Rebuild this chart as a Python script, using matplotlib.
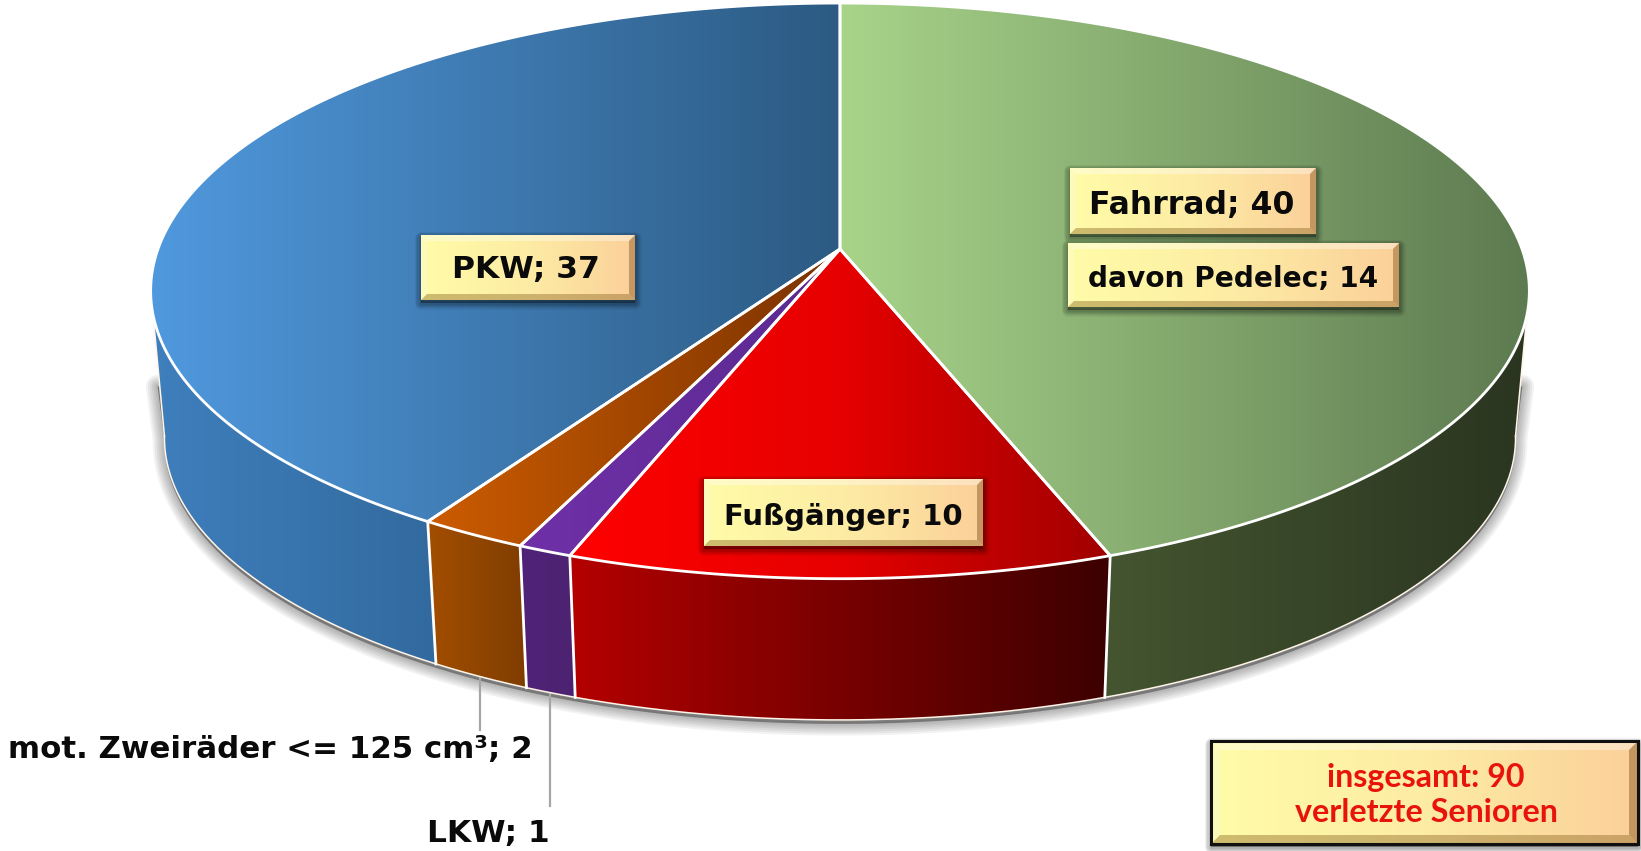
import numpy as np
import matplotlib
matplotlib.use('Agg')
import matplotlib.pyplot as plt
from matplotlib.colors import LinearSegmentedColormap
from matplotlib.patches import Polygon, Rectangle

names = ['Fahrrad', 'Fußgänger', 'LKW', 'mot. Zweiräder <= 125 cm³', 'PKW']
values = [40, 10, 1, 2, 37]
total_label = ['insgesamt: 90', 'verletzte Senioren']
sub_label = 'davon Pedelec; 14'

top_cols = [['#a8d48a', '#5d7a50'], ['#ff0000', '#e60000', '#a00000'], ['#7030a8', '#5a2a90'],
            ['#cc5c00', '#7a3200'], ['#5099de', '#2c5a82']]
wall_cols = [['#445530', '#2a3520'], ['#b40000', '#3c0000'], ['#50237a', '#4c2270'],
             ['#a34e00', '#7f3d00'], ['#3f7fbd', '#326a9e']]

W, H = 1641, 851
CX, CY = 840.0, 249.0
PERSP = 0.1455
RX = 682.0
RY = 245.5
LOWER = 0.98
VP_Y = 7640.0
# rulings on the silhouette, left and right
WALL_FROM, WALL_TO = 98.0, 262.0


def top_xy(ang):
    # angle in degrees, clockwise from 12 o'clock
    a = np.radians(ang)
    u, v = np.sin(a), np.cos(a)
    d = 1 + PERSP * v
    return CX + RX * u / d, (CY - RY * v) / d


def low_xy(ang):
    x, y = top_xy(ang)
    return CX + LOWER * (x - CX), VP_Y + LOWER * (y - VP_Y)


fig = plt.figure(figsize=(W / 100, H / 100), dpi=100)
ax = fig.add_axes([0, 0, 1, 1])
ax.set_xlim(0, W)
ax.set_ylim(H, 0)
ax.axis('off')


def grad_fill(xy, cols, z, bounds=None):
    xy = np.asarray(xy)
    poly = Polygon(xy, closed=True, fc='none', ec='none', zorder=z)
    ax.add_patch(poly)
    if bounds is None:
        x0, x1 = xy[:, 0].min(), xy[:, 0].max()
    else:
        x0, x1 = bounds
    y0, y1 = xy[:, 1].min(), xy[:, 1].max()
    cmap = LinearSegmentedColormap.from_list('g', cols)
    im = ax.imshow(np.linspace(0, 1, 256)[None, :], cmap=cmap, extent=[x0, x1, y1, y0],
                   aspect='auto', zorder=z, interpolation='bilinear')
    im.set_clip_path(poly)


def soft_shadow(xy, z, n=7, step=2.4, alpha=0.05, dy=3, color='black'):
    xy = np.asarray(xy) + [0, dy]
    for i in range(n, 0, -1):
        ax.add_patch(Polygon(xy, closed=True, fc='none', ec=color, lw=i * step, alpha=alpha,
                             joinstyle='round', zorder=z))
    ax.add_patch(Polygon(xy, closed=True, fc=color, ec='none', alpha=0.35, zorder=z))


def bevel_box(x0, y0, x1, y1, b=6, border=None, z=10):
    rect = [(x0, y0), (x1, y0), (x1, y1), (x0, y1)]
    soft_shadow(rect, z, n=5, step=1.8, alpha=0.07, dy=3)
    grad_fill(rect, ['#fffca8', '#fdeca4', '#fbd09a'], z + 1)
    faces = [([(x0, y0), (x1, y0), (x1 - b, y0 + b), (x0 + b, y0 + b)], '#ffffff', 0.36),
             ([(x0, y0), (x0 + b, y0 + b), (x0 + b, y1 - b), (x0, y1)], '#ffffff', 0.22),
             ([(x1, y0), (x1, y1), (x1 - b, y1 - b), (x1 - b, y0 + b)], '#7a4a10', 0.42),
             ([(x0, y1), (x1, y1), (x1 - b, y1 - b), (x0 + b, y1 - b)], '#8a6420', 0.42)]
    for f, c, a in faces:
        ax.add_patch(Polygon(f, closed=True, fc=c, ec='none', alpha=a, zorder=z + 2))
    if border:
        ax.add_patch(Rectangle((x0, y0), x1 - x0, y1 - y0, fc='none', ec=border, lw=2.2, zorder=z + 3))


# slice angles from the values
edges = np.cumsum([0] + values) * 360.0 / sum(values)

# shadow under the body, it starts halfway down the side walls
full = np.linspace(WALL_FROM, WALL_TO, 300)
lx, ly = low_xy(full)
rx, ry = top_xy(full)
soft_shadow(np.column_stack([np.r_[(rx[0] + lx[0]) / 2, lx, (rx[-1] + lx[-1]) / 2],
                             np.r_[(ry[0] + ly[0]) / 2 + 20, ly, (ry[-1] + ly[-1]) / 2 + 20]]),
            1, n=6, step=2.8, alpha=0.05, dy=4)

# side walls
for i in range(len(values)):
    a0, a1 = edges[i], edges[i + 1]
    a0v, a1v = max(a0, WALL_FROM), min(a1, WALL_TO)
    ang = np.linspace(a0v, a1v, 160)
    tx, ty = top_xy(ang)
    bx, by = low_xy(ang)
    wall = np.column_stack([np.r_[tx, bx[::-1]], np.r_[ty, by[::-1]]])
    grad_fill(wall, wall_cols[i], 3)
    ax.plot(bx, by, color='#fff4e8', lw=1.1, zorder=4)
    # white separators on the wall
    if WALL_FROM < a0 < WALL_TO:
        ax.plot(*zip(top_xy(a0), low_xy(a0)), color='white', lw=2, zorder=4)
for a in (WALL_FROM, WALL_TO):
    ax.plot(*zip(top_xy(a), low_xy(a)), color='#fff4e8', lw=1.1, zorder=4)

# top faces
for i in range(len(values)):
    a0, a1 = edges[i], edges[i + 1]
    ang = np.linspace(a0, a1, 240)
    tx, ty = top_xy(ang)
    face = np.column_stack([np.r_[CX, tx], np.r_[CY, ty]])
    grad_fill(face, top_cols[i], 5)
    ax.add_patch(Polygon(face, closed=True, fc='none', ec='white', lw=2, joinstyle='round', zorder=6))

# leader lines of the two small slices
ax.plot([480, 480], [675, 730], color='#a6a6a6', lw=1.6, zorder=2)
ax.plot([550, 550], [692, 806], color='#a6a6a6', lw=1.6, zorder=2)

# boxed labels
comic = {'family': 'DejaVu Sans', 'weight': 'bold', 'color': '#0a0a0a', 'ha': 'center', 'va': 'center', 'zorder': 20}

bevel_box(1070, 168, 1316, 234)
ax.text(1192, 205, f'{names[0]}; {values[0]}', fontsize=22.7, **comic)
bevel_box(1068, 243, 1399, 307)
ax.text(1233, 279, sub_label, fontsize=20.2, **comic)
bevel_box(421, 235, 635, 300)
ax.text(526, 270, f'{names[4]}; {values[4]}', fontsize=22.6, **comic)
bevel_box(704, 479, 983, 546)
ax.text(843, 517, f'{names[1]}; {values[1]}', fontsize=21, **comic)

ax.text(270, 750, f'{names[3]}; {values[3]}', fontsize=22.2, **comic)
ax.text(488, 833, f'{names[2]}; {values[2]}', fontsize=22.5, **comic)

# total box
bevel_box(1211, 741, 1638, 844, b=9, border='#101010')
ax.text(1426, 777, total_label[0], fontsize=23.2, family='Lato', weight='bold', color='#e8140c',
        ha='center', va='center', zorder=20)
ax.text(1426, 813, total_label[1], fontsize=23.2, family='Lato', weight='bold', color='#e8140c',
        ha='center', va='center', zorder=20)

fig.savefig('out.png', dpi=100, facecolor='white')
